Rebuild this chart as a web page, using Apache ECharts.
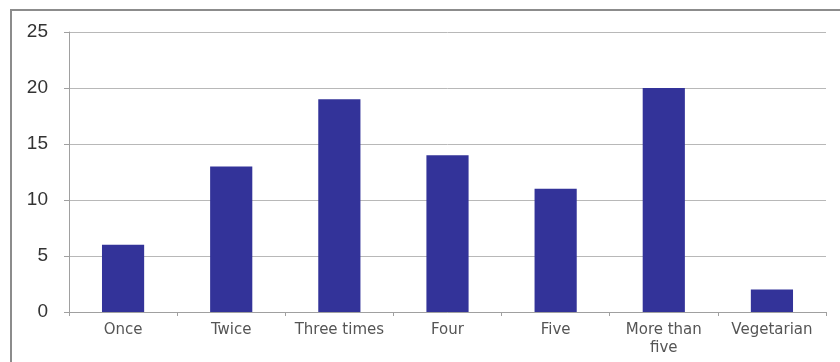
<!DOCTYPE html>
<html>
<head>
<meta charset="utf-8">
<script src="https://cdn.jsdelivr.net/npm/echarts@6/dist/echarts.min.js"></script>
<style>
  html, body { margin: 0; padding: 0; background: #fff; }
  #chart { width: 840px; height: 362px; }
</style>
</head>
<body>
<div id="chart"></div>
<script>
// Meals per week containing meat
const categories = ['Once', 'Twice', 'Three times', 'Four', 'Five', 'More than\nfive', 'Vegetarian'];
const counts = [6, 13, 19, 14, 11, 20, 2];
const yTicks = { min: 0, max: 25, interval: 5 };

const chart = echarts.init(document.getElementById('chart'));
chart.setOption({
  animation: false,
  backgroundColor: '#fff',
  graphic: [{
    type: 'rect',
    shape: { x: 11, y: 10, width: 860, height: 380 },
    style: { fill: 'none', stroke: '#8c8c8c', lineWidth: 2 },
    silent: true
  }],
  grid: { left: 69, right: 14, top: 32, bottom: 50, containLabel: false },
  xAxis: {
    type: 'category',
    data: categories,
    axisLine: { lineStyle: { color: '#a0a0a0', width: 1 } },
    axisTick: { show: true, length: 4, lineStyle: { color: '#a0a0a0' } },
    axisLabel: {
      color: '#555',
      fontFamily: 'DejaVu Sans, sans-serif',
      fontSize: 15,
      margin: 9,
      lineHeight: 18,
      interval: 0
    }
  },
  yAxis: {
    type: 'value',
    min: yTicks.min,
    max: yTicks.max,
    interval: yTicks.interval,
    axisLine: { show: true, lineStyle: { color: '#a0a0a0' } },
    axisTick: { show: true, length: 5, lineStyle: { color: '#a0a0a0' } },
    splitLine: { lineStyle: { color: '#b8b8b8', width: 1 } },
    axisLabel: {
      color: '#333',
      fontFamily: 'Liberation Sans, Arial, sans-serif',
      fontSize: 19,
      margin: 21
    }
  },
  series: [{
    type: 'bar',
    data: counts,
    barWidth: '39%',
    itemStyle: { color: '#333399' }
  }]
});
</script>
</body>
</html>
